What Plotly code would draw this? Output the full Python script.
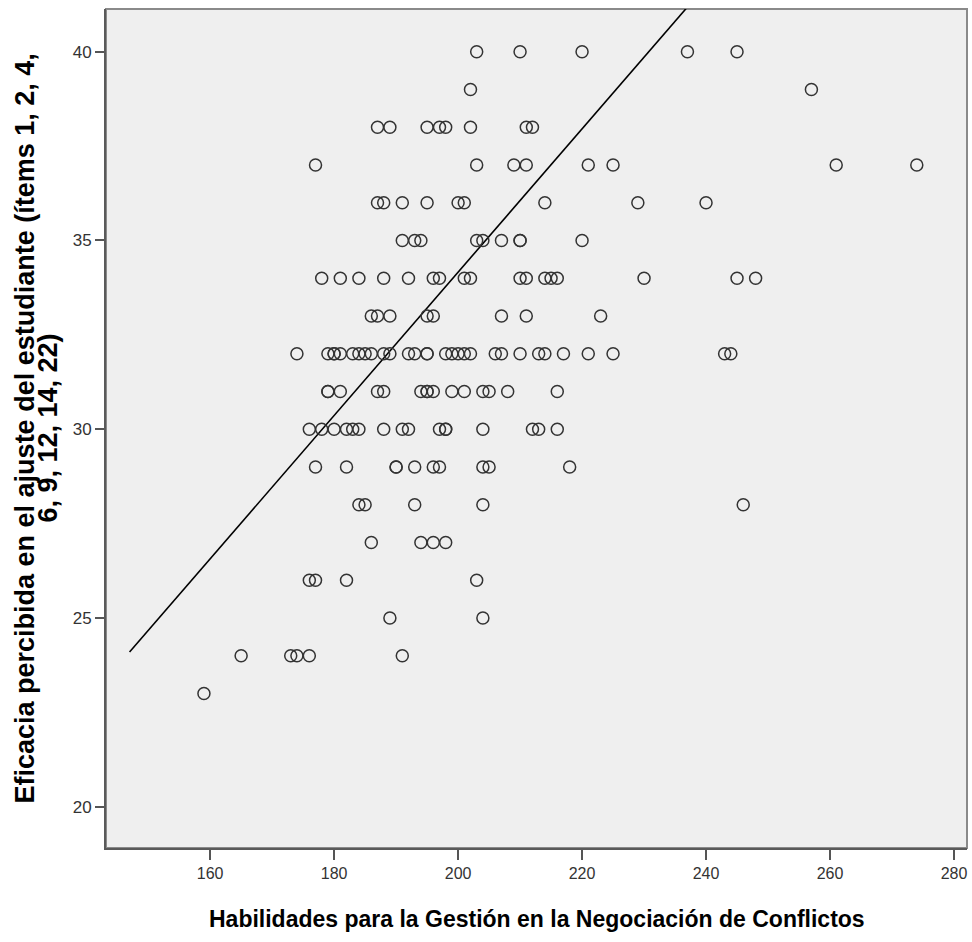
import plotly.graph_objects as go

# Habilidades scores, grouped by the Eficacia score of each student
hab_40 = [203, 210, 220, 237, 245]
hab_39 = [202, 257]
hab_38 = [187, 189, 195, 197, 198, 202, 211, 212]
hab_37 = [177, 203, 209, 211, 221, 225, 261, 274]
hab_36 = [187, 188, 191, 195, 200, 201, 214, 229, 240]
hab_35 = [191, 193, 194, 203, 204, 207, 210, 210, 220]
hab_34 = [178, 181, 184, 188, 192, 196, 197, 201, 202, 210, 211, 214, 215, 216,
          230, 245, 248]
hab_33 = [186, 187, 189, 195, 196, 207, 211, 223]
hab_32 = [174, 179, 180, 180, 181, 183, 184, 185, 186, 188, 189, 192, 193, 195,
          195, 198, 199, 200, 201, 202, 206, 207, 210, 213, 214, 217, 221, 225,
          243, 244]
hab_31 = [179, 179, 181, 187, 188, 194, 195, 195, 196, 199, 201, 204, 205, 208, 216]
hab_30 = [176, 178, 180, 182, 183, 184, 188, 191, 192, 197, 198, 198, 204, 212,
          213, 216]
hab_29 = [177, 182, 190, 190, 193, 196, 197, 204, 205, 218]
hab_28 = [184, 185, 193, 204, 246]
hab_27 = [186, 194, 196, 198]
hab_26 = [176, 177, 182, 203]
hab_25 = [189, 204]
hab_24 = [165, 173, 174, 176, 191]
hab_23 = [159]

efic_levels = [40, 39, 38, 37, 36, 35, 34, 33, 32, 31, 30, 29, 28, 27, 26, 25, 24, 23]
hab_groups = [hab_40, hab_39, hab_38, hab_37, hab_36, hab_35, hab_34, hab_33, hab_32,
              hab_31, hab_30, hab_29, hab_28, hab_27, hab_26, hab_25, hab_24, hab_23]

# Fitted line
fit_intercept = -3.80
fit_slope = 0.1898
fit_x = [147, 240]

x_ticks = [160, 180, 200, 220, 240, 260, 280]
y_ticks = [20, 25, 30, 35, 40]

x_title = "Habilidades para la Gestión en la Negociación de Conflictos"
y_title_1 = "Eficacia percibida en el ajuste del estudiante (ítems 1, 2, 4,"
y_title_2 = "6, 9, 12, 14, 22)"

xs, ys = [], []
for lvl, grp in zip(efic_levels, hab_groups):
    xs.extend(grp)
    ys.extend([lvl] * len(grp))

FONT = "Liberation Sans, Arial, sans-serif"

fig = go.Figure()
fig.add_trace(go.Scatter(
    x=fit_x, y=[fit_intercept + fit_slope * v for v in fit_x],
    mode="lines", line=dict(color="black", width=1.6),
    hoverinfo="skip", showlegend=False))
fig.add_trace(go.Scatter(
    x=xs, y=ys, mode="markers",
    marker=dict(symbol="circle-open", size=12, color="#333333",
                line=dict(width=1.5, color="#333333")),
    showlegend=False, cliponaxis=False))

fig.add_shape(type="rect", xref="paper", yref="paper", x0=0, y0=0, x1=1, y1=1,
              line=dict(color="#8a8a8a", width=2), layer="below")

fig.add_annotation(text=y_title_1, xref="paper", yref="paper", x=-0.0952, y=0.5,
                   textangle=-90, showarrow=False, xanchor="center", yanchor="middle",
                   font=dict(family=FONT, size=27, color="black", weight="bold"))
fig.add_annotation(text=y_title_2, xref="paper", yref="paper", x=-0.0685, y=0.5,
                   textangle=-90, showarrow=False, xanchor="center", yanchor="middle",
                   font=dict(family=FONT, size=27, color="black", weight="bold"))
fig.add_annotation(text=x_title, xref="paper", yref="paper", x=0.5, y=-0.0846,
                   showarrow=False, xanchor="center", yanchor="middle",
                   font=dict(family=FONT, size=23, color="black", weight="bold"))

fig.update_xaxes(range=[143.2, 282.1], tickvals=x_ticks, ticks="outside", ticklen=10,
                 tickwidth=2, tickcolor="#555555", showgrid=False, zeroline=False,
                 showline=True, linecolor="#5a5a5a", linewidth=2,
                 tickfont=dict(family=FONT, size=16, color="#333333"))
fig.update_yaxes(range=[18.91, 41.13], tickvals=y_ticks, ticks="outside", ticklen=9,
                 tickwidth=2, tickcolor="#555555", showgrid=False, zeroline=False,
                 showline=True, linecolor="#5a5a5a", linewidth=2,
                 tickfont=dict(family=FONT, size=17, color="#333333"))

fig.update_layout(width=972, height=942, margin=dict(l=106, r=5, t=9, b=94),
                  plot_bgcolor="#efefef", paper_bgcolor="white")

fig.write_html("out.html")
